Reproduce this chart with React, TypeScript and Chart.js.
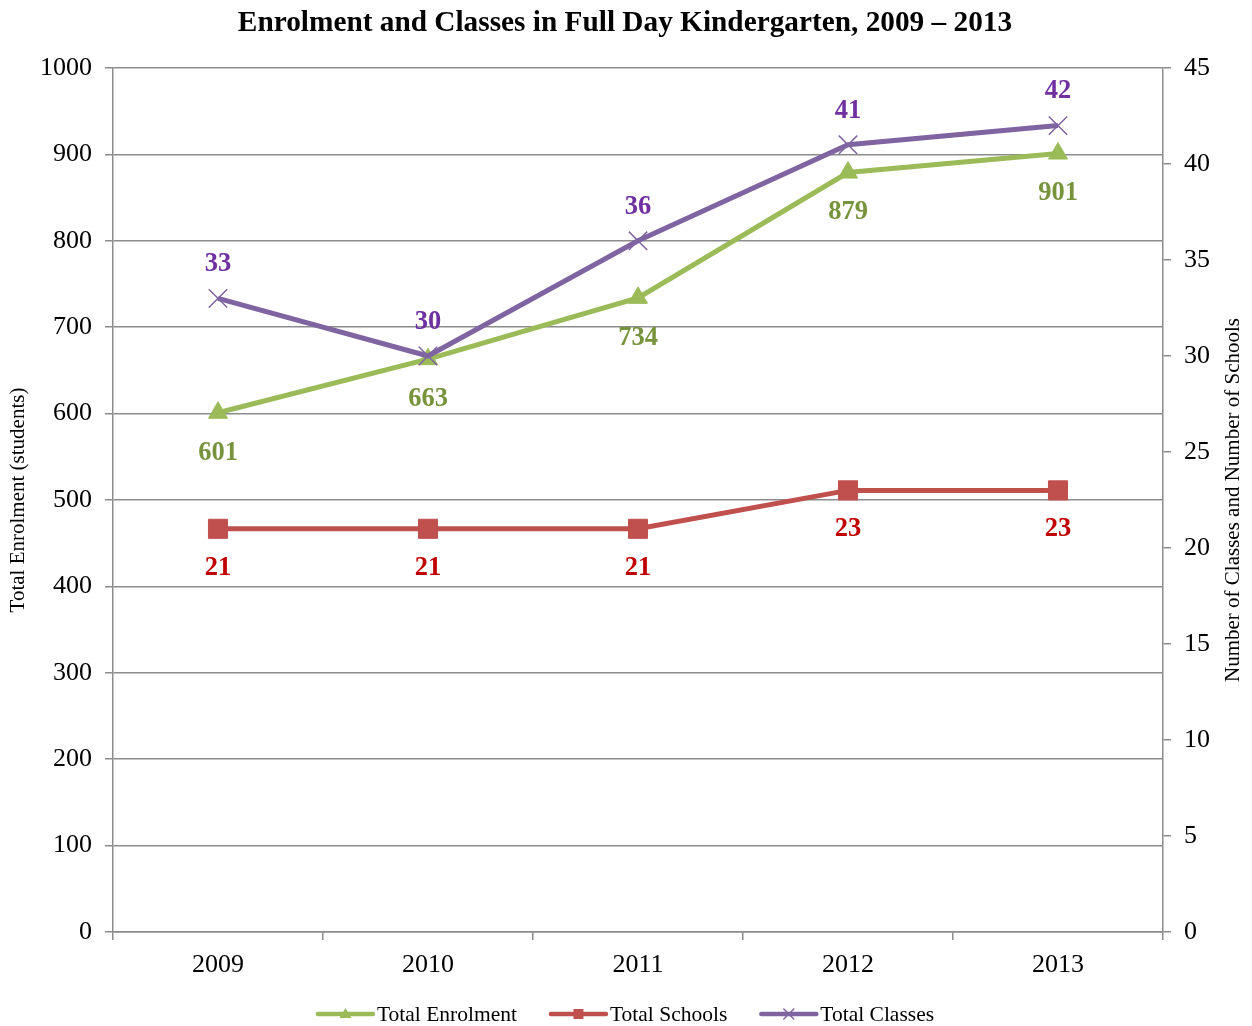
import React, { useEffect, useRef } from "react";
import { Chart, registerables } from "chart.js";

Chart.register(...registerables);

const years = ["2009", "2010", "2011", "2012", "2013"];
const totalEnrolment = [601, 663, 734, 879, 901];
const totalSchools = [21, 21, 21, 23, 23];
const totalClasses = [33, 30, 36, 41, 42];

const leftTicks = [0, 100, 200, 300, 400, 500, 600, 700, 800, 900, 1000];
const rightTicks = [0, 5, 10, 15, 20, 25, 30, 35, 40, 45];

const titleText = "Enrolment and Classes in Full Day Kindergarten, 2009 \u2013 2013";
const leftTitle = "Total Enrolment (students)";
const rightTitle = "Number of Classes and Number of Schools";

const FONT = '"Liberation Serif", "Times New Roman", serif';
const GRID = "#8c8c8c";

const W = 1252;
const H = 1026;

type LabelCfg = { color: string; dy: number };

const seriesLabels: LabelCfg[] = [
  { color: "#77933C", dy: 40 },
  { color: "#C00000", dy: 39 },
  { color: "#7030A0", dy: -34 },
];

const legendItems = [
  { text: "Total Enrolment", color: "#9BBB59", style: "triangle" },
  { text: "Total Schools", color: "#C0504D", style: "rect" },
  { text: "Total Classes", color: "#8064A2", style: "cross" },
];

function drawLegendMarker(ctx: CanvasRenderingContext2D, style: string, color: string, x: number, y: number) {
  ctx.save();
  ctx.fillStyle = color;
  ctx.strokeStyle = color;
  if (style === "triangle") {
    ctx.beginPath();
    ctx.moveTo(x, y - 6);
    ctx.lineTo(x + 6, y + 4);
    ctx.lineTo(x - 6, y + 4);
    ctx.closePath();
    ctx.fill();
  } else if (style === "rect") {
    ctx.fillRect(x - 5, y - 5, 10, 10);
  } else {
    ctx.lineWidth = 1.5;
    ctx.beginPath();
    ctx.moveTo(x - 5, y - 5);
    ctx.lineTo(x + 5, y + 5);
    ctx.moveTo(x + 5, y - 5);
    ctx.lineTo(x - 5, y + 5);
    ctx.stroke();
  }
  ctx.restore();
}

const decorPlugin = {
  id: "decor",
  afterDatasetsDraw(chart: any) {
    const ctx = chart.ctx;
    ctx.save();
    chart.data.datasets.forEach((ds: any, i: number) => {
      const meta = chart.getDatasetMeta(i);
      const cfg = seriesLabels[i];
      ctx.font = `bold 26.5px ${FONT}`;
      ctx.fillStyle = cfg.color;
      ctx.textAlign = "center";
      ctx.textBaseline = "middle";
      meta.data.forEach((pt: any, j: number) => {
        ctx.fillText(String(ds.data[j]), pt.x, pt.y + cfg.dy);
      });
    });
    ctx.restore();
  },
  afterDraw(chart: any) {
    const ctx = chart.ctx;
    const area = chart.chartArea;
    ctx.save();
    ctx.font = `bold 29.3px ${FONT}`;
    ctx.fillStyle = "#000";
    ctx.textAlign = "center";
    ctx.textBaseline = "middle";
    ctx.fillText(titleText, W / 2 - 1, 23);

    ctx.font = `21px ${FONT}`;
    const midY = (area.top + area.bottom) / 2;
    ctx.save();
    ctx.translate(18, midY);
    ctx.rotate(-Math.PI / 2);
    ctx.fillText(leftTitle, 0, 0);
    ctx.restore();
    ctx.save();
    ctx.translate(1233, midY);
    ctx.rotate(-Math.PI / 2);
    ctx.fillText(rightTitle, 0, 0);
    ctx.restore();

    ctx.font = `21.5px ${FONT}`;
    const lineLen = 55;
    const gap = 4;
    const itemGap = 34;
    const widths = legendItems.map((it) => lineLen + gap + ctx.measureText(it.text).width);
    const total = widths.reduce((a, b) => a + b, 0) + itemGap * (legendItems.length - 1);
    let x = W / 2 - total / 2;
    const y = 1014;
    legendItems.forEach((it, k) => {
      ctx.strokeStyle = it.color;
      ctx.lineWidth = 4.5;
      ctx.lineCap = "round";
      ctx.beginPath();
      ctx.moveTo(x, y);
      ctx.lineTo(x + lineLen, y);
      ctx.stroke();
      drawLegendMarker(ctx, it.style, it.color, x + lineLen / 2, y);
      ctx.fillStyle = "#000";
      ctx.textAlign = "left";
      ctx.textBaseline = "middle";
      ctx.fillText(it.text, x + lineLen + gap, y + 1);
      x += widths[k] + itemGap;
    });
    ctx.restore();
  },
};

export default function App() {
  const ref = useRef<HTMLCanvasElement | null>(null);

  useEffect(() => {
    if (!ref.current) return;
    const chart = new Chart(ref.current, {
      type: "line",
      data: {
        labels: years,
        datasets: [
          {
            label: "Total Enrolment",
            data: totalEnrolment,
            yAxisID: "y",
            borderColor: "#9BBB59",
            backgroundColor: "#9BBB59",
            borderWidth: 5,
            pointStyle: "triangle",
            pointRadius: 11,
            pointBorderWidth: 1,
            order: 2,
          },
          {
            label: "Total Schools",
            data: totalSchools,
            yAxisID: "y1",
            borderColor: "#C0504D",
            backgroundColor: "#C0504D",
            borderWidth: 5,
            pointStyle: "rect",
            pointRadius: 13.5,
            pointBorderWidth: 1,
            order: 3,
          },
          {
            label: "Total Classes",
            data: totalClasses,
            yAxisID: "y1",
            borderColor: "#8064A2",
            backgroundColor: "#8064A2",
            borderWidth: 5,
            pointStyle: "crossRot",
            pointRadius: 13,
            pointBorderWidth: 1.5,
            order: 1,
          },
        ],
      },
      options: {
        responsive: false,
        animation: false,
        events: [],
        layout: { padding: { top: 68, left: 0, right: 0, bottom: 0 } },
        plugins: {
          legend: { display: false },
          title: { display: false },
          tooltip: { enabled: false },
        },
        scales: {
          x: {
            type: "category",
            offset: true,
            grid: {
              offset: true,
              drawOnChartArea: false,
              color: GRID,
              lineWidth: 1.5,
              tickLength: 8,
            },
            border: { color: GRID, width: 1.5 },
            ticks: {
              color: "#000",
              font: { family: FONT, size: 26 },
              padding: 10,
            },
            afterFit(scale: any) {
              scale.height = 94;
            },
          },
          y: {
            position: "left",
            min: 0,
            max: 1000,
            afterBuildTicks(scale: any) {
              scale.ticks = leftTicks.map((v) => ({ value: v }));
            },
            grid: {
              color: GRID,
              lineWidth: 1.5,
              tickLength: 8,
            },
            border: { color: GRID, width: 1.5 },
            ticks: {
              color: "#000",
              font: { family: FONT, size: 26 },
              padding: 13,
              callback: (v: any) => String(v),
            },
            afterFit(scale: any) {
              scale.width = 113;
            },
          },
          y1: {
            position: "right",
            min: 0,
            max: 45,
            afterBuildTicks(scale: any) {
              scale.ticks = rightTicks.map((v) => ({ value: v }));
            },
            grid: {
              drawOnChartArea: false,
              color: GRID,
              lineWidth: 1.5,
              tickLength: 8,
            },
            border: { color: GRID, width: 1.5 },
            ticks: {
              color: "#000",
              font: { family: FONT, size: 26 },
              padding: 13,
              callback: (v: any) => String(v),
            },
            afterFit(scale: any) {
              scale.width = 89;
            },
          },
        },
      } as any,
      plugins: [decorPlugin],
    });
    return () => chart.destroy();
  }, []);

  return (
    <div style={{ position: "absolute", left: 0, top: 0, width: W, height: H, background: "#fff" }}>
      <canvas ref={ref} width={W} height={H} style={{ display: "block", width: W, height: H }} />
    </div>
  );
}
